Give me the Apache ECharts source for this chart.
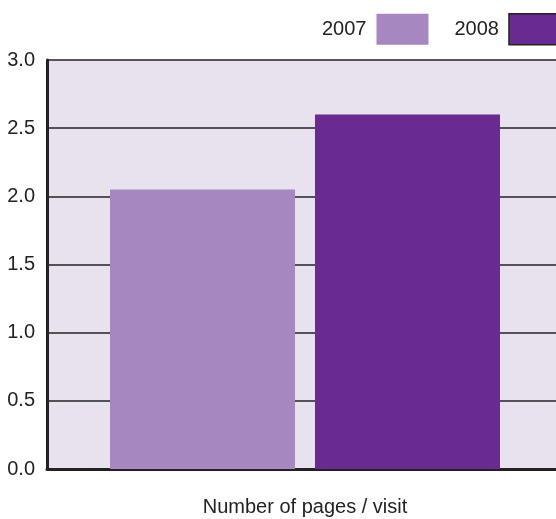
<!DOCTYPE html>
<html>
<head>
<meta charset="utf-8">
<script src="https://cdn.jsdelivr.net/npm/echarts@6/dist/echarts.min.js"></script>
<style>
  html, body { margin: 0; padding: 0; background: #fff; }
  #chart { width: 556px; height: 519px; }
</style>
</head>
<body>
<div id="chart"></div>
<script>
// Average number of pages per visit, by year
const categories = ['Number of pages / visit'];
const years = ['2007', '2008'];
const values2007 = [2.05];
const values2008 = [2.6];
const yTicks = [0, 0.5, 1.0, 1.5, 2.0, 2.5, 3.0];

const colors = { '2007': '#A687BF', '2008': '#692B91' };
const font = 'Liberation Sans, Arial, Helvetica, sans-serif';

const chart = echarts.init(document.getElementById('chart'));
chart.setOption({
  animation: false,
  textStyle: { fontFamily: font },
  legend: {
    orient: 'horizontal',
    left: 317,
    top: 8,
    width: 400,
    align: 'right',
    itemWidth: 52,
    itemHeight: 31,
    itemGap: 26,
    textStyle: { fontSize: 20, color: '#222', fontFamily: font, padding: [0, 5, 0, 0] },
    data: [
      { name: years[0], icon: 'rect', itemStyle: { color: colors['2007'], borderWidth: 0 } },
      { name: years[1], icon: 'rect', itemStyle: { color: colors['2008'], borderColor: '#222', borderWidth: 1.5 } }
    ]
  },
  grid: {
    left: 47,
    top: 60,
    width: 516,
    height: 409,
    outerBoundsMode: 'none',
    show: true,
    backgroundColor: '#E8E2EF',
    borderWidth: 0
  },
  xAxis: {
    type: 'category',
    data: categories,
    axisTick: { show: false },
    axisLine: { show: true, lineStyle: { color: '#222', width: 3 } },
    axisLabel: { margin: 28, fontSize: 20, color: '#222', fontFamily: font }
  },
  yAxis: {
    type: 'value',
    min: 0,
    max: 3,
    interval: 0.5,
    axisLine: { show: true, lineStyle: { color: '#222', width: 3 } },
    axisTick: { show: false },
    axisLabel: {
      margin: 12,
      fontSize: 20,
      color: '#222',
      fontFamily: font,
      formatter: v => yTicks.includes(v) ? v.toFixed(1) : ''
    },
    splitLine: { show: true, lineStyle: { color: '#222', width: 1.5 } }
  },
  series: [
    {
      name: years[0],
      type: 'bar',
      data: values2007,
      barWidth: 185,
      barGap: '10.8%',
      itemStyle: { color: colors['2007'] }
    },
    {
      name: years[1],
      type: 'bar',
      data: values2008,
      barWidth: 185,
      barGap: '10.8%',
      itemStyle: { color: colors['2008'] }
    }
  ]
});
</script>
</body>
</html>
